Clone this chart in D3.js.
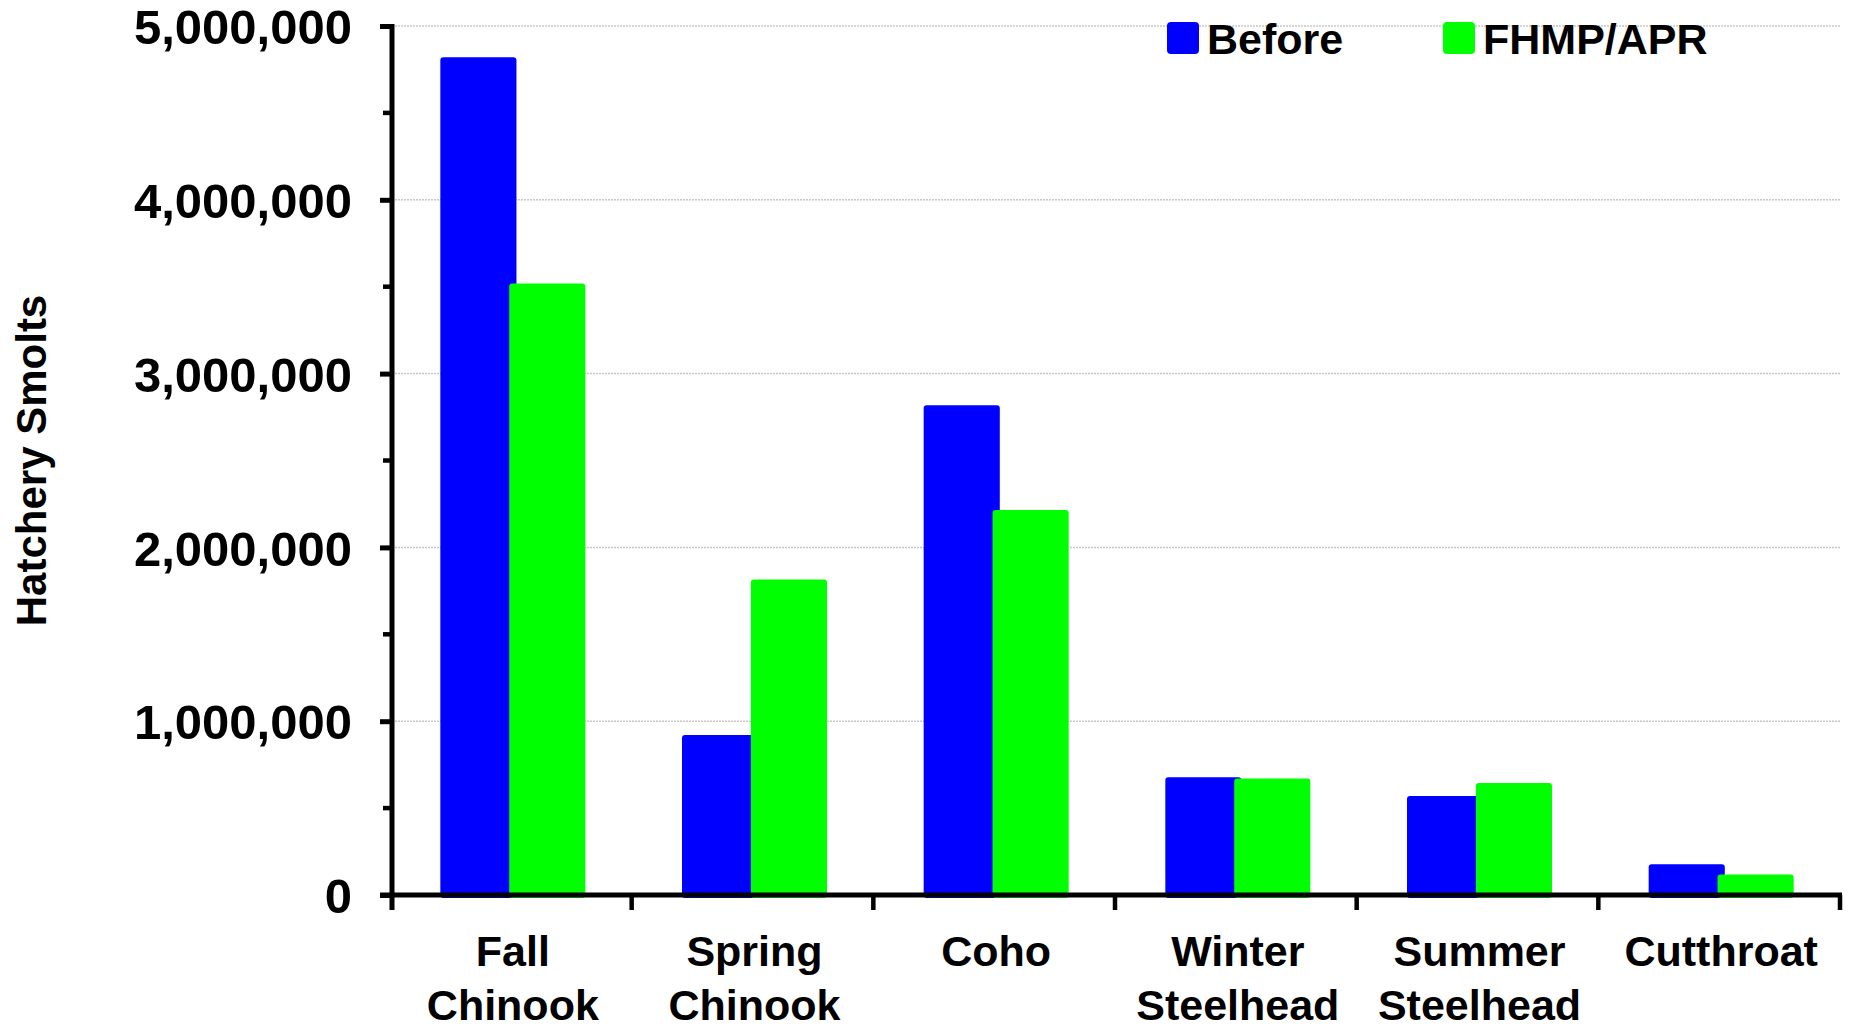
<!DOCTYPE html>
<html>
<head>
<meta charset="utf-8">
<script src="https://cdn.jsdelivr.net/npm/d3@7"></script>
<style>
	body { margin: 0; background: #fff; }
	text { font-family: "Liberation Sans", Arial, sans-serif; font-weight: bold; fill: #000; }
</style>
</head>
<body>
<script>
// chart data
var categories = ["Fall Chinook", "Spring Chinook", "Coho", "Winter Steelhead", "Summer Steelhead", "Cutthroat"];
var categoryLines = [["Fall", "Chinook"], ["Spring", "Chinook"], ["Coho"], ["Winter", "Steelhead"], ["Summer", "Steelhead"], ["Cutthroat"]];
var seriesNames = ["Before", "FHMP/APR"];
var before = [4820000, 920000, 2818000, 678000, 569000, 177000];
var fhmp = [3518000, 1815000, 2215000, 670000, 644000, 118000];
var yTicks = [0, 1000000, 2000000, 3000000, 4000000, 5000000];
var yMinorTicks = [500000, 1500000, 2500000, 3500000, 4500000];
var yTitle = "Hatchery Smolts";

var width = 1849;
var height = 1029;
var plotLeft = 392, plotRight = 1842, plotTop = 26, plotBottom = 895;
var colors = ["#0000ff", "#00ff00"];

var svg = d3.select("body")
			.append("svg")
			.attr("width", width)
			.attr("height", height);

var x = d3.scaleBand()
			.domain(categories)
			.range([plotLeft, plotRight])
			.padding(0);

var y = d3.scaleLinear()
			.domain([0, 5000000])
			.range([plotBottom, plotTop]);

// gridlines
svg.append("g")
	.selectAll("line")
	.data(yTicks.slice(1))
	.enter()
	.append("line")
	.attr("x1", plotLeft)
	.attr("x2", plotRight - 2)
	.attr("y1", function(d) { return y(d) })
	.attr("y2", function(d) { return y(d) })
	.style("stroke", "#c8c8c8")
	.style("stroke-width", 1.5)
	.style("stroke-dasharray", "2,1");

// bars
var bw = x.bandwidth();
var groupW = bw * 0.6;
var barW = bw * 0.315;
var seriesData = [before, fhmp];

seriesData.forEach(function(values, s) {
	svg.append("g")
		.selectAll("rect")
		.data(values)
		.enter()
		.append("rect")
		.attr("x", function(d, i) {
			var c = x(categories[i]) + bw / 2;
			return s == 0 ? c - groupW / 2 : c + groupW / 2 - barW;
		})
		.attr("y", function(d) { return y(d) })
		.attr("width", barW)
		.attr("height", function(d) { return plotBottom - y(d) + 3 })
		.attr("rx", 3)
		.style("fill", colors[s]);
});

// y axis
var yAxis = d3.axisLeft(y)
			.tickValues(yTicks)
			.tickSize(12)
			.tickPadding(28)
			.tickFormat(d3.format(","));

var yAxisGroup = svg.append("g")
			.attr("transform", "translate(" + plotLeft + ",0)")
			.call(yAxis);

yAxisGroup.select(".domain").remove();
yAxisGroup.selectAll(".tick line")
	.style("stroke", "#000")
	.style("stroke-width", 5);
yAxisGroup.selectAll(".tick text")
	.attr("dy", "0.36em")
	.style("font-size", "49px")
	.style("font-family", "'Liberation Sans', Arial, sans-serif");

svg.append("g")
	.selectAll("line")
	.data(yMinorTicks)
	.enter()
	.append("line")
	.attr("x1", plotLeft - 9)
	.attr("x2", plotLeft)
	.attr("y1", function(d) { return y(d) })
	.attr("y2", function(d) { return y(d) })
	.style("stroke", "#000")
	.style("stroke-width", 4.5);

// axis lines
svg.append("line")
	.attr("x1", plotLeft)
	.attr("x2", plotLeft)
	.attr("y1", plotTop - 2)
	.attr("y2", plotBottom + 15)
	.style("stroke", "#000")
	.style("stroke-width", 5);

svg.append("line")
	.attr("x1", plotLeft - 12)
	.attr("x2", plotRight)
	.attr("y1", plotBottom)
	.attr("y2", plotBottom)
	.style("stroke", "#000")
	.style("stroke-width", 5);

// x boundary ticks
var bounds = categories.map(function(c) { return x(c) }).concat([x.range()[1]]);
svg.append("g")
	.selectAll("line")
	.data(bounds.slice(1))
	.enter()
	.append("line")
	.attr("x1", function(d) { return d - 2 })
	.attr("x2", function(d) { return d - 2 })
	.attr("y1", plotBottom)
	.attr("y2", plotBottom + 15)
	.style("stroke", "#000")
	.style("stroke-width", 4.5);

// x labels
var xLabels = svg.append("g")
			.selectAll("text")
			.data(categoryLines)
			.enter()
			.append("text")
			.attr("text-anchor", "middle")
			.style("font-size", "43px");

xLabels.selectAll("tspan")
	.data(function(d, i) { return d.map(function(t) { return { t: t, i: i } }) })
	.enter()
	.append("tspan")
	.attr("x", function(d) { return x(categories[d.i]) + bw / 2 })
	.attr("y", function(d, j) { return 966 + j * 54 })
	.text(function(d) { return d.t });

// y title
svg.append("text")
	.attr("transform", "translate(46," + ((plotTop + plotBottom) / 2) + ") rotate(-90)")
	.attr("text-anchor", "middle")
	.style("font-size", "42px")
	.text(yTitle);

// legend
var legendX = [1167, 1443];
var legend = svg.append("g")
			.selectAll("g")
			.data(seriesNames)
			.enter()
			.append("g")
			.attr("transform", function(d, i) { return "translate(" + legendX[i] + ",22)" });

legend.append("rect")
	.attr("width", 32)
	.attr("height", 32)
	.attr("rx", 4)
	.style("fill", function(d, i) { return colors[i] });

legend.append("text")
	.attr("x", 40)
	.attr("y", 32)
	.style("font-size", "43px")
	.text(function(d) { return d });
</script>
</body>
</html>
